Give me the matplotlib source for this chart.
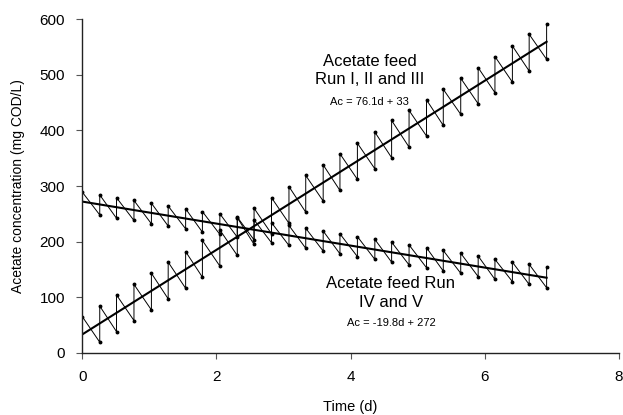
import matplotlib
matplotlib.use("Agg")
import matplotlib.pyplot as plt

plt.rcParams['font.family'] = ['Liberation Sans', 'DejaVu Sans']

# feed times (d)
feed_times = [0, 0.26, 0.51, 0.77, 1.03, 1.28, 1.54, 1.79, 2.05, 2.31, 2.56, 2.82,
              3.08, 3.33, 3.59, 3.84, 4.10, 4.36, 4.61, 4.87, 5.13, 5.38, 5.64,
              5.90, 6.15, 6.41, 6.66, 6.92]

# Run I, II and III: concentration just after feeding (peaks) and just before (troughs)
inc_peaks = [65, 84, 104, 123, 143, 163, 182, 202, 221, 243, 260, 279, 299, 319,
             338, 358, 377, 397, 418, 436, 455, 474, 494, 513, 533, 552, 573, 591]
inc_troughs = [19, 38, 58, 77, 97, 116, 136, 156, 175, 195, 214, 233, 253, 273,
               292, 312, 331, 351, 370, 390, 409, 429, 448, 468, 487, 507, 528]

# Run IV and V
dec_peaks = [289, 284, 279, 274, 269, 264, 259, 254, 250, 244, 239, 234, 229, 224,
             219, 214, 209, 204, 199, 194, 189, 184, 179, 174, 168, 163, 159, 154]
dec_troughs = [248, 242, 238, 232, 228, 223, 217, 213, 208, 203, 198, 193, 188, 183,
               178, 173, 168, 163, 158, 153, 147, 143, 137, 132, 128, 123, 117]

# linear fits
inc_fit = (76.1, 33)
dec_fit = (-19.8, 272)


def sawtooth(times, peaks, troughs):
    # first point is a peak, then trough/peak pairs at each later feed time
    xs, ys = [times[0]], [peaks[0]]
    for i in range(1, len(times)):
        xs += [times[i], times[i]]
        ys += [troughs[i - 1], peaks[i]]
    return xs, ys


fig = plt.figure(figsize=(6.23, 4.15), dpi=100)
ax = fig.add_axes([0.1321, 0.150, 0.8616, 0.8035])

for peaks, troughs, fit in [(inc_peaks, inc_troughs, inc_fit),
                            (dec_peaks, dec_troughs, dec_fit)]:
    xs, ys = sawtooth(feed_times, peaks, troughs)
    ax.plot(xs, ys, color='black', lw=0.7, marker='o', ms=1.8)
    x0, x1 = feed_times[0], feed_times[-1]
    ax.plot([x0, x1], [fit[0] * x0 + fit[1], fit[0] * x1 + fit[1]],
            color='black', lw=1.5)

ax.set_xlim(0, 8)
ax.set_ylim(0, 600)
ax.set_xticks(range(0, 9, 2))
ax.set_yticks(range(0, 601, 100))
ax.spines['top'].set_visible(False)
ax.spines['right'].set_visible(False)
for s in ['left', 'bottom']:
    ax.spines[s].set_linewidth(1.0)
    ax.spines[s].set_color('#222222')
ax.tick_params(direction='out', length=4.5, width=0.8, labelsize=11, pad=8,
               color='#555555')
ax.set_xlabel('Time (d)', fontsize=10.5, va='center')
ax.xaxis.set_label_coords(0.5, -0.162)
ax.set_ylabel('Acetate concentration (mg COD/L)', fontsize=10, va='center')
ax.yaxis.set_label_coords(-0.12, 0.5)

ax.text(4.28, 508, 'Acetate feed\nRun I, II and III', ha='center', va='center',
        fontsize=12, linespacing=1.3)
ax.text(4.28, 451, 'Ac = 76.1d + 33', ha='center', va='center', fontsize=8)
ax.text(4.6, 108, 'Acetate feed Run\nIV and V', ha='center', va='center',
        fontsize=12, linespacing=1.3)
ax.text(4.6, 53, 'Ac = -19.8d + 272', ha='center', va='center', fontsize=8)

fig.savefig('out.png', dpi=100)
